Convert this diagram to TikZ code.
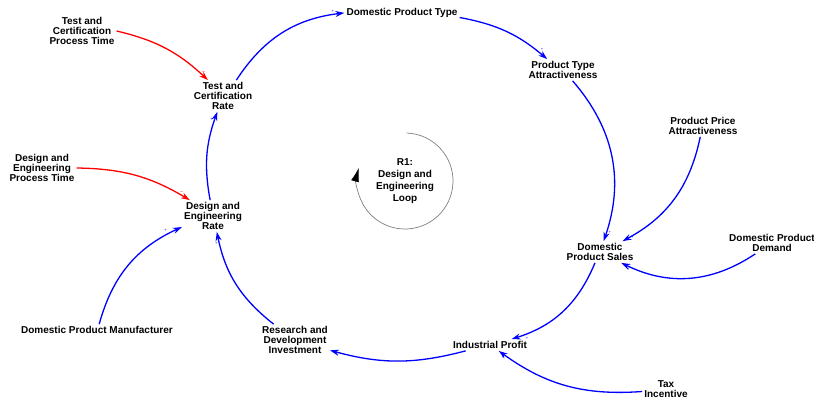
\documentclass[tikz,border=0pt]{standalone}
\usepackage{fontspec}
\setmainfont{Liberation Sans}
\usetikzlibrary{arrows.meta}

\begin{document}
\begin{tikzpicture}[x=1pt,y=-1pt,
    var/.style={font=\fontsize{10}{10}\selectfont\bfseries, align=center, inner sep=2pt},
    link/.style={draw=blue, line width=1.3pt, -{Stealth[length=9pt,width=6pt]}, bend left=#1},
    dlink/.style={link=#1, draw=red},
    pos sign/.style={font=\fontsize{4}{4}\selectfont, text=blue, inner sep=1.5pt},
    neg sign/.style={font=\fontsize{5}{5}\selectfont, text=red, inner sep=1.5pt}]
  \useasboundingbox (0,0) rectangle (814,399);

  % variables
  \node[var] (tcpt) at (82,31)  {Test and\\Certification\\Process Time};
  \node[var] (tcr)  at (223,96) {Test and\\Certification\\Rate};
  \node[var] (dpt)  at (402,13) {Domestic Product Type};
  \node[var] (pta)  at (563,70) {Product Type\\Attractiveness};
  \node[var] (ppa)  at (703,126) {Product Price\\Attractiveness};
  \node[var] (dps)  at (600,252) {Domestic\\Product Sales};
  \node[var] (dpd)  at (772,243) {Domestic Product\\Demand};
  \node[var] (ip)   at (490,345) {Industrial Profit};
  \node[var] (tax)  at (666,389) {Tax\\Incentive};
  \node[var] (rdi)  at (295,340) {Research and\\Development\\Investment};
  \node[var] (dpm)  at (97,330)  {Domestic Product Manufacturer};
  \node[var] (der)  at (213,216) {Design and\\Engineering\\Rate};
  \node[var] (dept) at (42,168)  {Design and\\Engineering\\Process Time};

  % loop marker
  \node[var, font=\fontsize{10}{12}\selectfont\bfseries] (loop) at (405,181) {R1:\\Design and\\Engineering\\Loop};
  \draw[gray, line width=0.7pt, -{Latex[length=14pt,width=8pt,black]}]
    (loop.center) ++(-88:48) arc[start angle=-88, end angle=196, radius=48];

  % causal links
  \draw[dlink=15] (tcpt.east) to node[neg sign, pos=0.95, above] {--} (tcr);
  \draw[link=25]  (tcr)  to node[pos sign, pos=0.92, above] {+} (dpt);
  \draw[link=15]  (dpt)  to node[pos sign, pos=0.9, above right] {+} (pta);
  \draw[link=30]  (pta)  to node[pos sign, pos=0.95, right] {+} (dps);
  \draw[link=25]  (ppa)  to node[pos sign, pos=0.95, right] {+} (dps);
  \draw[link=30]  (dpd)  to node[pos sign, pos=0.95, below] {+} (dps);
  \draw[link=25]  (dps)  to node[pos sign, pos=0.9, below right] {+} (ip);
  \draw[link=20]  (tax)  to node[pos sign, pos=0.97, below] {+} (ip);
  \draw[link=15]  (ip)   to node[pos sign, pos=0.95, below] {+} (rdi);
  \draw[link=20]  (rdi)  to node[pos sign, pos=0.9, left] {+} (der);
  \draw[link=25]  (dpm)  to node[pos sign, pos=0.9, above left] {+} (der);
  \draw[dlink=15] (dept.east) to node[neg sign, pos=0.93, above] {--} (der);
  \draw[link=15]  (der)  to node[pos sign, pos=0.92, left] {+} (tcr);
\end{tikzpicture}
\end{document}
